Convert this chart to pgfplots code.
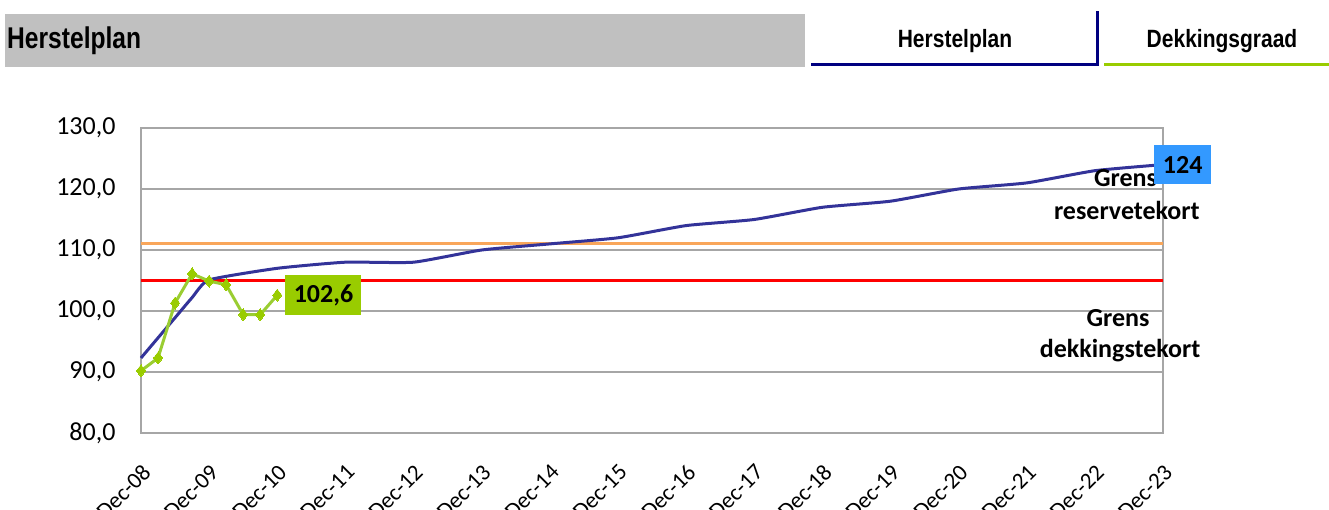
\documentclass[border=0pt]{standalone}
\usepackage{fontspec}
\setmainfont{Carlito}
\newfontfamily\arialfont{Liberation Sans}
\usepackage{graphicx}
\usepackage{pgfplots}
\pgfplotsset{compat=1.18}
\definecolor{navy}{HTML}{000080}
\definecolor{planblue}{HTML}{333399}
\definecolor{dgreen}{HTML}{9ACD32}
\definecolor{boxgreen}{HTML}{99CC00}
\definecolor{boxblue}{HTML}{3399FF}
\definecolor{orangeline}{HTML}{F9A65A}
\definecolor{gridgray}{HTML}{A6A6A6}
\definecolor{headgray}{HTML}{C0C0C0}
\begin{document}
\begin{tikzpicture}[x=1pt,y=1pt]
\useasboundingbox (0,0) rectangle (1329,510);
% header
\fill[headgray] (5,443) rectangle (805,496);
\node[anchor=west, inner sep=0] at (7,469) {\scalebox{0.82}[1]{\arialfont\bfseries\fontsize{30}{34}\selectfont Herstelplan}};
\draw[navy, line width=3pt] (811,445) -- (1097,445) -- (1097,499);
\draw[boxgreen, line width=3pt] (1104,445) -- (1329,445);
\node[inner sep=0] at (955,469) {\scalebox{0.84}[1]{\arialfont\bfseries\fontsize{25}{28}\selectfont Herstelplan}};
\node[inner sep=0] at (1222,469) {\scalebox{0.84}[1]{\arialfont\bfseries\fontsize{25}{28}\selectfont Dekkingsgraad}};
\begin{axis}[
  at={(141pt,77pt)}, anchor=south west,
  scale only axis, width=1022pt, height=305pt,
  xmin=0, xmax=15, ymin=80, ymax=130,
  xtick={0,...,15},
  xticklabels={Dec-08,Dec-09,Dec-10,Dec-11,Dec-12,Dec-13,Dec-14,Dec-15,Dec-16,Dec-17,Dec-18,Dec-19,Dec-20,Dec-21,Dec-22,Dec-23},
  ytick={80,90,...,130},
  major tick length=0pt,
  ymajorgrids,
  grid style={gridgray, line width=1.5pt},
  axis line style={gridgray, line width=1.5pt},
  yticklabel style={font=\fontsize{26}{29}\selectfont, xshift=-22pt},
  y tick label style={/pgf/number format/fixed, /pgf/number format/fixed zerofill, /pgf/number format/precision=1, /pgf/number format/use comma},
  /pgf/number format/assume math mode=true,
  xticklabel style={font=\fontsize{23}{26}\selectfont, rotate=45, anchor=north east, inner sep=0pt},
  xticklabel shift=30pt,
  clip=false,
]
\addplot[orangeline, line width=3pt] coordinates {(0,111) (15,111)};
\addplot[red, line width=3pt] coordinates {(0,105) (15,105)};
\addplot[planblue, line width=3pt, smooth, tension=0.3] coordinates {
(0,92.3) (0.25,95.6) (0.5,98.9) (0.75,102.2) (1,105.1) (2,107) (3,108) (4,108) (5,110) (6,111) (7,112) (8,114) (9,115) (10,117) (11,118) (12,120) (13,121) (14,123) (15,124)};
\addplot[dgreen, line width=3pt, mark=diamond*, mark size=6pt, mark options={fill=boxgreen, draw=boxgreen, line width=0pt}] coordinates {
(0,90.2) (0.25,92.3) (0.5,101.3) (0.75,106.1) (1,104.9) (1.25,104.3) (1.5,99.4) (1.75,99.4) (2,102.6)};
\node[font=\bfseries\fontsize{26}{28}\selectfont] at (axis cs:14.45,121.8) {Grens};
\node[font=\bfseries\fontsize{26}{28}\selectfont] at (axis cs:14.47,116.4) {reservetekort};
\node[font=\bfseries\fontsize{26}{28}\selectfont] at (axis cs:14.34,98.85) {Grens};
\node[font=\bfseries\fontsize{26}{28}\selectfont] at (axis cs:14.37,93.5) {dekkingstekort};
\node[fill=boxblue, anchor=west, xshift=-9pt, minimum width=57pt, minimum height=39pt, inner sep=0, font=\bfseries\fontsize{26}{28}\selectfont] at (axis cs:15,124) {124};
\node[fill=boxgreen, anchor=west, xshift=8pt, minimum width=76pt, minimum height=40pt, inner sep=0, font=\bfseries\fontsize{26}{28}\selectfont] at (axis cs:2,102.6) {102,6};
\end{axis}
\end{tikzpicture}
\end{document}
